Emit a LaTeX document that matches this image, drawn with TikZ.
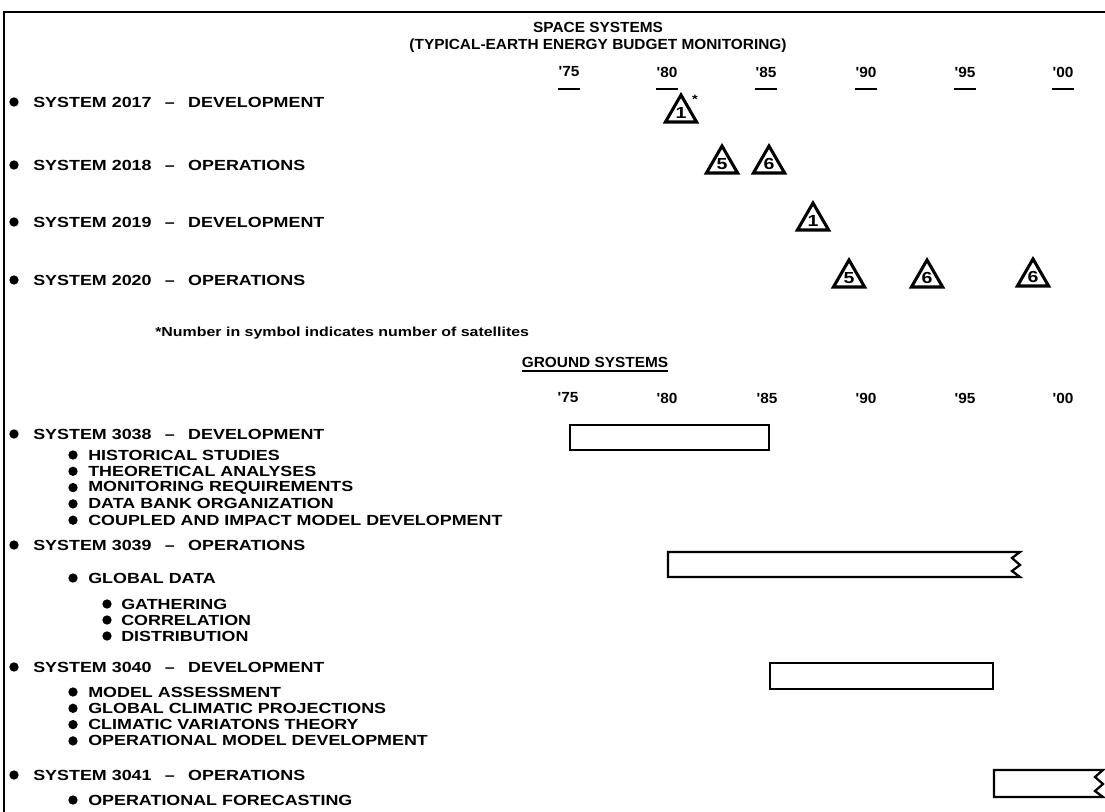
\documentclass[tikz,border=0pt]{standalone}
\usepackage{fontspec}
\setmainfont[FakeStretch=1.22]{Liberation Sans}
\newfontfamily\headfont[FakeStretch=1.05]{Liberation Sans}
\usetikzlibrary{shapes.geometric}

\begin{document}
\begin{tikzpicture}[x=0.75pt,y=-0.75pt,
 every node/.style={inner sep=0pt},
 lbl/.style={anchor=west,font=\bfseries\fontsize{11}{11}\selectfont},
 head/.style={font=\headfont\bfseries\fontsize{11}{11}\selectfont},
 yr/.style={font=\headfont\bfseries\fontsize{11}{11}\selectfont},
 dot/.style={circle,fill,minimum size=7pt},
 sat/.style={draw,regular polygon,regular polygon sides=3,minimum size=27pt,
  line width=2.3pt,font=\bfseries\fontsize{12}{12}\selectfont},
 bar/.style={line width=1.7pt,line join=miter},
 uline/.style={line width=2pt}]
\useasboundingbox (0,0) rectangle (1105,812);
% frame
\draw[line width=1.6pt] (3,12) -- (1105,12);
\draw[line width=1.6pt] (4,12) -- (4,812);

% space systems
\node[head] (space) at (598,27) {SPACE SYSTEMS};
\node[head] (typical) at (598,46) {(TYPICAL-EARTH ENERGY BUDGET MONITORING)};
\foreach \y/\x in {75/569,80/667,85/766,90/866,95/965,00/1063} {
 \node[yr] (t\y) at (\x,72) {'\y};
 \draw[uline] (\x-11,89) -- (\x+11,89);
}
\node[dot] (d2017) at (14,102) {};
\node[lbl] (s2017) at (33,102) {SYSTEM 2017\hspace{10pt}--\hspace{10pt}DEVELOPMENT};
\node[dot] (d2018) at (14,165) {};
\node[lbl] (s2018) at (33,165) {SYSTEM 2018\hspace{10pt}--\hspace{10pt}OPERATIONS};
\node[dot] (d2019) at (14,222) {};
\node[lbl] (s2019) at (33,222) {SYSTEM 2019\hspace{10pt}--\hspace{10pt}DEVELOPMENT};
\node[dot] (d2020) at (14,280) {};
\node[lbl] (s2020) at (33,280) {SYSTEM 2020\hspace{10pt}--\hspace{10pt}OPERATIONS};

\node[sat] (a1) at (681,113) {1};
\node[font=\bfseries\small] (star) at (695,99) {*};
\node[sat] (b5) at (722,164) {5};
\node[sat] (b6) at (769,164) {6};
\node[sat] (c1) at (813,221) {1};
\node[sat] (e5) at (849,278) {5};
\node[sat] (e6) at (927,278) {6};
\node[sat] (f6) at (1033,277) {6};

\node[lbl,font=\bfseries\fontsize{9.8}{10}\selectfont] (note) at (155,333)
 {*Number in symbol indicates number of satellites};

% ground systems
\node[head] (ground) at (595,362) {GROUND SYSTEMS};
\draw[uline,line width=1.5pt] ([yshift=-3pt]ground.south west) -- ([yshift=-3pt]ground.south east);
\foreach \y/\x in {75/568,80/667,85/767,90/866,95/965,00/1063}
 \node[yr] (g\y) at (\x,398) {'\y};

\node[dot] (d3038) at (14,434) {};
\node[lbl] (s3038) at (33,434) {SYSTEM 3038\hspace{10pt}--\hspace{10pt}DEVELOPMENT};
\foreach \t [count=\i] in {HISTORICAL STUDIES,THEORETICAL ANALYSES,MONITORING REQUIREMENTS,
 DATA BANK ORGANIZATION,COUPLED AND IMPACT MODEL DEVELOPMENT} {
 \node[dot] (p\i) at (73,455+16.3*\i-16.3) {};
 \node[lbl] (h\i) at (88,455+16.3*\i-16.3) {\t};
}
\draw[bar] (570,425) rectangle (769,450);

\node[dot] (d3039) at (14,545) {};
\node[lbl] (s3039) at (33,545) {SYSTEM 3039\hspace{10pt}--\hspace{10pt}OPERATIONS};
\node[dot] (dglob) at (73,578) {};
\node[lbl] (glob) at (88,578) {GLOBAL DATA};
\foreach \t [count=\i] in {GATHERING,CORRELATION,DISTRIBUTION} {
 \node[dot] (q\i) at (107,604+16*\i-16) {};
 \node[lbl] (k\i) at (121,604+16*\i-16) {\t};
}
\draw[bar] (1020,552) -- (668,552) -- (668,577) -- (1020,577)
 -- (1012,571) -- (1020,565) -- (1012,558) -- cycle;

\node[dot] (d3040) at (14,667) {};
\node[lbl] (s3040) at (33,667) {SYSTEM 3040\hspace{10pt}--\hspace{10pt}DEVELOPMENT};
\foreach \t [count=\i] in {MODEL ASSESSMENT,GLOBAL CLIMATIC PROJECTIONS,
 CLIMATIC VARIATONS THEORY,OPERATIONAL MODEL DEVELOPMENT} {
 \node[dot] (r\i) at (73,692+16.3*\i-16.3) {};
 \node[lbl] (m\i) at (88,692+16.3*\i-16.3) {\t};
}
\draw[bar] (770,663) rectangle (993,689);

\node[dot] (d3041) at (14,775) {};
\node[lbl] (s3041) at (33,775) {SYSTEM 3041\hspace{10pt}--\hspace{10pt}OPERATIONS};
\node[dot] (dfore) at (73,800) {};
\node[lbl] (fore) at (88,800) {OPERATIONAL FORECASTING};
\draw[bar] (1103,770) -- (994,770) -- (994,797) -- (1103,797)
 -- (1095,791) -- (1103,784) -- (1095,777) -- cycle;
\end{tikzpicture}
\end{document}
